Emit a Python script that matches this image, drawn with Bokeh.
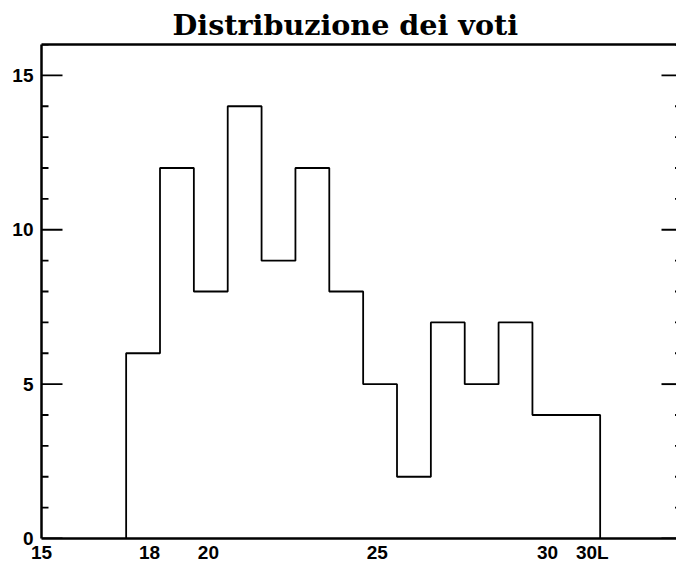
from bokeh.plotting import figure
from bokeh.models import LinearAxis, FixedTicker, Range1d
from bokeh.embed import file_html
from bokeh.resources import INLINE

# ---- data ----
grades = ["18", "19", "20", "21", "22", "23", "24", "25", "26", "27", "28", "29", "30", "30L"]
counts = [6, 12, 8, 14, 9, 12, 8, 5, 2, 7, 5, 7, 4, 4]
x_tick_vals = [15, 18, 20, 25, 30, 31]
x_tick_text = ["15", "18", "20", "25", "30", "30L"]
y_major = [0, 5, 10, 15]
y_minor = list(range(0, 17))
title_text = "Distribuzione dei voti"

# bin centres: grade 18 at 18, ..., 30L at 31
centers = [18 + i for i in range(len(grades))]

W, H = 676, 565
ML, MT, MB = 41, 44, 26
X0, X1 = 15, 33.755
Y0, Y1 = 0, 16
px_per_x = (W - ML) / (X1 - X0)

p = figure(width=W, height=H, x_range=Range1d(X0, X1), y_range=Range1d(Y0, Y1),
           x_axis_location=None, y_axis_location=None,
           min_border_left=ML, min_border_right=0, min_border_top=MT, min_border_bottom=MB,
           output_backend="svg", toolbar_location=None)
p.outline_line_color = None
p.xgrid.visible = False
p.ygrid.visible = False

# title
p.title.text = title_text
p.title.align = "left"
p.title.offset = 131
p.title.text_font = "DejaVu Serif"
p.title.text_font_style = "bold"
p.title.text_font_size = "28.6px"
p.title.text_color = "black"
p.title.standoff = 6

# step outline of histogram
xs, ys = [centers[0] - 0.5], [0]
for c, n in zip(centers, counts):
    xs += [c - 0.5, c + 0.5]
    ys += [n, n]
xs.append(centers[-1] + 0.5)
ys.append(0)
p.line(xs, ys, line_color="black", line_width=1.8)

tick_font = "Liberation Sans"

# left axis: line + labels
ya = LinearAxis(ticker=FixedTicker(ticks=y_major, minor_ticks=y_minor))
ya.major_tick_in = 0
ya.major_tick_out = 0
ya.minor_tick_in = 0
ya.minor_tick_out = 0
ya.axis_line_width = 2.5
ya.axis_line_color = "black"
ya.major_label_standoff = 8
ya.major_label_text_font = tick_font
ya.major_label_text_font_style = "bold"
ya.major_label_text_font_size = "19px"
ya.major_label_text_color = "black"
p.add_layout(ya, "left")

# inward tick marks on both sides (right axis lies just past the window edge)
minor_only = [v for v in y_minor if v not in y_major]
tick_specs = [
    (X0, 21, y_major), (X0, 7, minor_only),      # left: major, minor
    (X1, -15, y_major), (X1, -1.5, minor_only),  # right: major, minor
]
for base, length_px, vals in tick_specs:
    p.segment(x0=[base] * len(vals), y0=vals,
              x1=[base + length_px / px_per_x] * len(vals), y1=vals,
              line_color="black", line_width=1.9)

# bottom axis: line + labels, no ticks
label_shift = {"18": 0.19, "20": -0.07, "25": -0.08, "30": -0.055, "30L": 0.27}
shifted = [v + label_shift.get(t, 0) for v, t in zip(x_tick_vals, x_tick_text)]
xa = LinearAxis(ticker=FixedTicker(ticks=shifted))
xa.major_label_overrides = {s: t for s, t in zip(shifted, x_tick_text)}
xa.major_tick_in = 0
xa.major_tick_out = 0
xa.minor_tick_in = 0
xa.minor_tick_out = 0
xa.axis_line_width = 2.5
xa.axis_line_color = "black"
xa.major_label_standoff = 3
xa.major_label_text_font = tick_font
xa.major_label_text_font_style = "bold"
xa.major_label_text_font_size = "19px"
xa.major_label_text_color = "black"
p.add_layout(xa, "below")

# top axis: line only
ta = LinearAxis(ticker=FixedTicker(ticks=[]))
ta.major_tick_in = 0
ta.major_tick_out = 0
ta.minor_tick_in = 0
ta.minor_tick_out = 0
ta.axis_line_width = 2.5
ta.axis_line_color = "black"
ta.major_label_standoff = 0
p.add_layout(ta, "above")

open("out.html", "w").write(file_html(p, INLINE))
